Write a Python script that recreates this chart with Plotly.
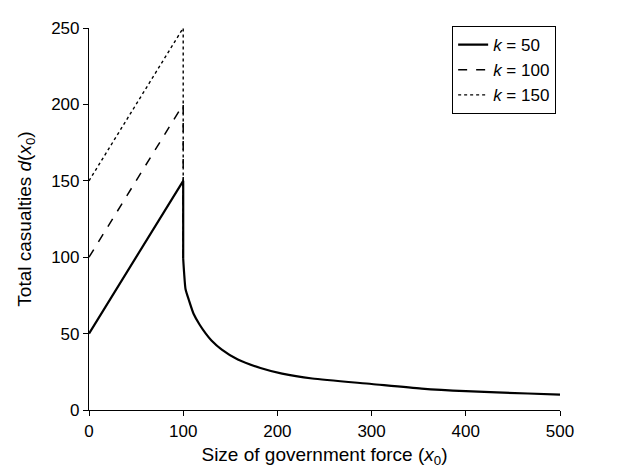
import plotly.graph_objects as go

# Rising segments (x0 from 0 to 100) for each k
k_values = [50, 100, 150]
x_rise = [0, 100, 100]
y_rise = {50: [50, 150, 99], 100: [100, 200, 99], 150: [150, 250, 99]}

# Common decaying tail after x0 = 100
x_tail = [100, 101, 102.5, 106, 111, 117.5, 124, 130, 141, 158, 182, 205, 237, 300, 353, 400, 466, 500]
y_tail = [99, 89.5, 79, 72, 63, 55.8, 50, 45.5, 39.5, 33, 27.5, 23.8, 20.6, 17.0, 14.0, 12.3, 10.8, 10.0]

x_ticks = [0, 100, 200, 300, 400, 500]
y_ticks = [0, 50, 100, 150, 200, 250]

styles = {50: ("solid", 2.2), 100: ("dash", 1.5), 150: ("dot", 1.4)}

fig = go.Figure()
for k in reversed(k_values):
    dash, w = styles[k]
    fig.add_trace(go.Scatter(
        x=x_rise, y=y_rise[k], mode="lines",
        line=dict(color="black", width=w, dash=dash),
        name=f"<i>k</i> = {k}", legendrank=k,
    ))
fig.add_trace(go.Scatter(
    x=x_tail, y=y_tail, mode="lines",
    line=dict(color="black", width=2.2, shape="spline", smoothing=0.6),
    showlegend=False, hoverinfo="skip",
))

font_family = "Liberation Sans, Arial, sans-serif"
fig.update_layout(
    width=629, height=475,
    margin=dict(l=81, r=77, t=11, b=73),
    plot_bgcolor="white", paper_bgcolor="white",
    font=dict(family=font_family, size=17, color="black"),
    showlegend=True,
    legend=dict(
        x=0.771, y=1.005, xanchor="left", yanchor="top",
        bordercolor="black", borderwidth=1, bgcolor="white",
        font=dict(size=17), tracegroupgap=0,
        traceorder="normal", itemwidth=30,
    ),
    xaxis=dict(
        range=[0, 500], tickvals=x_ticks, ticktext=[str(v) for v in x_ticks],
        showgrid=False, zeroline=False, showline=True, linecolor="black", linewidth=1.2,
        ticks="outside", ticklen=5, tickcolor="black",
        title=dict(text="Size of government force (<i>x</i><sub>0</sub>)", standoff=8,
                   font=dict(size=19)),
    ),
    yaxis=dict(
        range=[0, 250], tickvals=y_ticks, ticktext=[str(v) for v in y_ticks],
        showgrid=False, zeroline=False, showline=True, linecolor="black", linewidth=1.2,
        ticks="outside", ticklen=5, tickcolor="black",
        title=dict(text="Total casualties <i>d</i>(<i>x</i><sub>0</sub>)", standoff=14,
                   font=dict(size=19)),
    ),
)

fig.write_html("out.html")
